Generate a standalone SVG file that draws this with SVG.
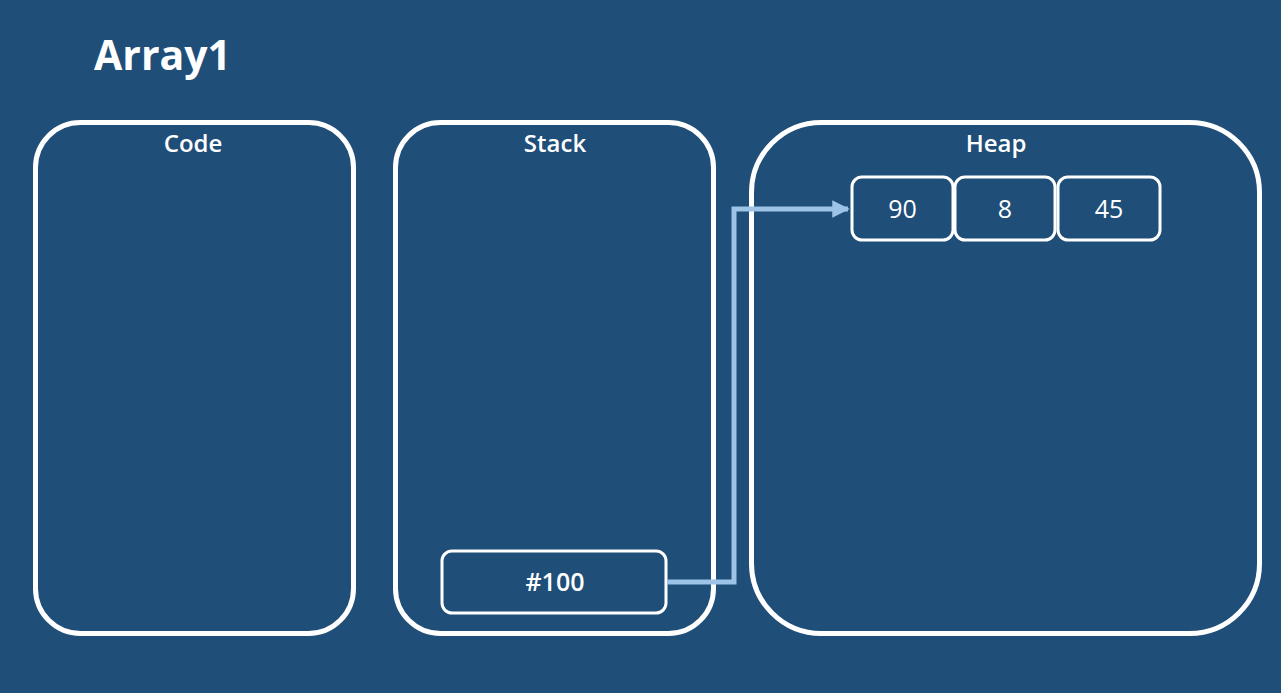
<svg xmlns="http://www.w3.org/2000/svg" width="1281" height="693" viewBox="0 0 1281 693">
<style>
.panel{fill:none;stroke:#fff;stroke-width:5}
.cell{fill:#1f4e79;stroke:#fff;stroke-width:3}
.t{font-family:"Open Sans","Noto Sans",sans-serif;fill:#fff;text-anchor:middle}
.hd{font-size:24px;font-weight:600}
.v{font-size:25px}
</style>
<defs>
<marker id="ah" viewBox="0 0 10 10" refX="9" refY="5" markerWidth="3.5" markerHeight="3.5" orient="auto" markerUnits="strokeWidth">
<path d="M0,0 L10,5 L0,10 z" fill="#9dc3e6"/>
</marker>
</defs>
<rect width="1281" height="693" fill="#1f4e79"/>
<text x="94" y="70" font-family="'Open Sans','Noto Sans',sans-serif" font-size="41" font-weight="700" fill="#fff">Array1</text>
<g id="code">
<rect class="panel" x="35.5" y="122.5" width="318" height="511" rx="45"/>
<text class="t hd" x="193" y="152">Code</text>
</g>
<g id="stack">
<rect class="panel" x="395.5" y="122.5" width="318" height="511" rx="45"/>
<text class="t hd" x="555" y="152">Stack</text>
</g>
<g id="heap">
<rect class="panel" x="751.5" y="122.5" width="508" height="511" rx="70"/>
<text class="t hd" x="996" y="152">Heap</text>
</g>
<g id="ref">
<rect class="cell" x="442" y="551" width="224" height="62" rx="10"/>
<text class="t v" x="555" y="591" font-weight="600">#100</text>
</g>
<g id="h0">
<rect class="cell" x="852" y="177" width="101" height="63" rx="10"/>
<text class="t v" x="902.5" y="218">90</text>
</g>
<g id="h1">
<rect class="cell" x="955" y="177" width="100" height="63" rx="10"/>
<text class="t v" x="1005" y="218">8</text>
</g>
<g id="h2">
<rect class="cell" x="1058" y="177" width="102" height="63" rx="10"/>
<text class="t v" x="1109" y="218">45</text>
</g>
<g id="connectors">
<polyline points="667,582 734,582 734,209 848,209" fill="none" stroke="#9dc3e6" stroke-width="5" marker-end="url(#ah)"/>
</g>
</svg>
